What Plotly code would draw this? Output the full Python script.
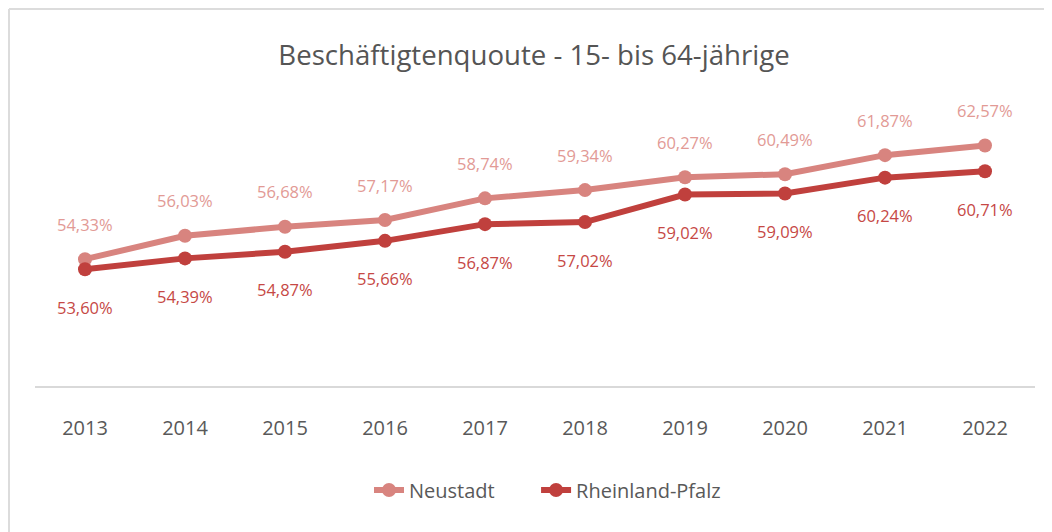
import plotly.graph_objects as go

years = ["2013", "2014", "2015", "2016", "2017", "2018", "2019", "2020", "2021", "2022"]
neustadt = [54.33, 56.03, 56.68, 57.17, 58.74, 59.34, 60.27, 60.49, 61.87, 62.57]
rlp = [53.60, 54.39, 54.87, 55.66, 56.87, 57.02, 59.02, 59.09, 60.24, 60.71]

c_neu = "#D8847F"
c_rlp = "#C0403D"
c_neu_txt = "#E29A95"
c_rlp_txt = "#C64845"

def fmt(v):
    return f"{v:.2f}".replace(".", ",") + "%"

fig = go.Figure()
fig.add_trace(go.Scatter(x=years, y=neustadt, name="Neustadt" + "\u00a0" * 7, mode="lines+markers",
                         line=dict(color=c_neu, width=6), marker=dict(size=14, color=c_neu)))
fig.add_trace(go.Scatter(x=years, y=rlp, name="Rheinland-Pfalz", mode="lines+markers",
                         line=dict(color=c_rlp, width=6), marker=dict(size=14, color=c_rlp)))

for i, v in enumerate(neustadt):
    fig.add_annotation(x=i, y=v, text=fmt(v), showarrow=False, yshift=35,
                       font=dict(family="Open Sans", size=16.5, color=c_neu_txt))
for i, v in enumerate(rlp):
    fig.add_annotation(x=i, y=v, text=fmt(v), showarrow=False, yshift=-38,
                       font=dict(family="Open Sans", size=16.5, color=c_rlp_txt))

# outer frame (top and left edges)
fig.add_shape(type="line", xref="paper", yref="paper", x0=-0.026, x1=1.03, y0=1.099, y1=1.099,
              line=dict(color="#DCDCDC", width=2))
fig.add_shape(type="line", xref="paper", yref="paper", x0=-0.026, x1=-0.026, y0=1.099, y1=-0.45,
              line=dict(color="#DCDCDC", width=2))

fig.update_layout(
    width=1052, height=532,
    margin=dict(l=27, r=25, t=35, b=154),
    paper_bgcolor="white", plot_bgcolor="white",
    title=dict(text="Beschäftigtenquoute - 15- bis 64-jährige", x=0.5, xanchor="center",
               y=1 - 47 / 532, yanchor="middle",
               font=dict(family="Open Sans", size=27.6, color="#555555")),
    showlegend=True,
    legend=dict(orientation="h", x=0.334, xanchor="left", y=-0.303, yanchor="middle",
                font=dict(family="Open Sans", size=20, color="#595959"),
                tracegroupgap=0),
    xaxis=dict(type="category", range=[-0.5, 9.5], showgrid=False, showline=True,
               linecolor="#D9D9D9", linewidth=2,
               ticks="", ticklabelstandoff=23,
               tickfont=dict(family="Open Sans", size=20, color="#595959")),
    yaxis=dict(range=[45.14, 70], showgrid=False, showticklabels=False, zeroline=False,
               showline=False),
)

fig.write_html("out.html")
